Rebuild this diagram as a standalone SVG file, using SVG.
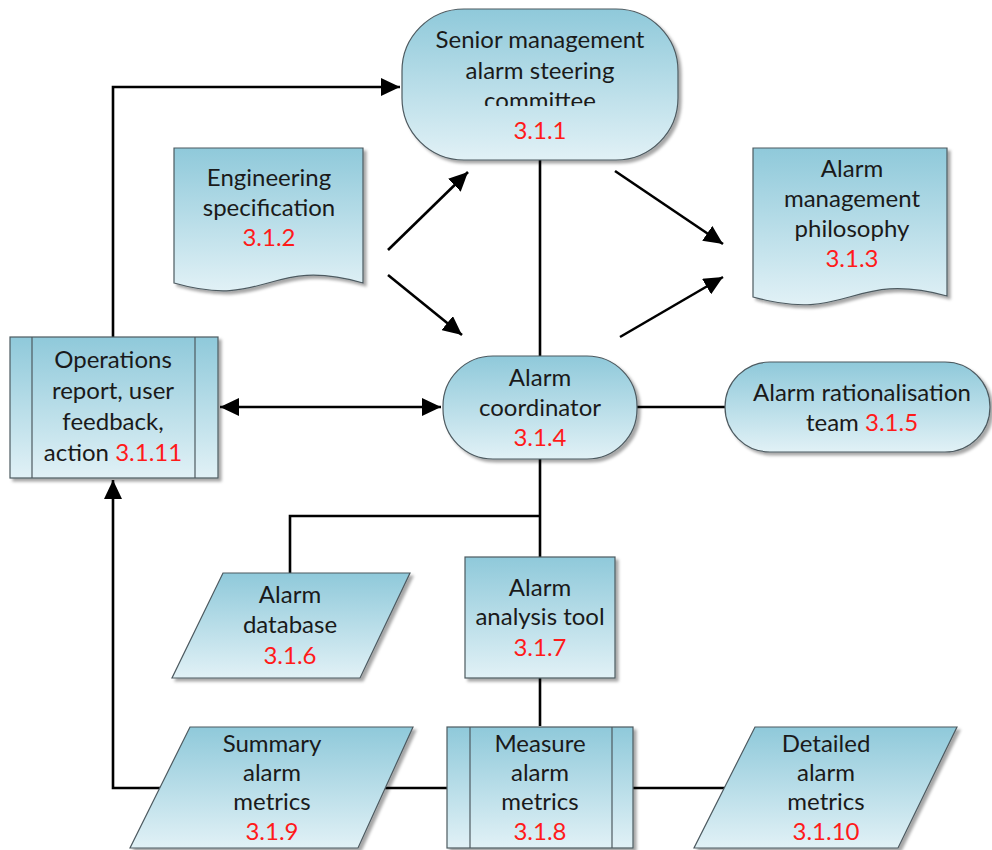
<svg xmlns="http://www.w3.org/2000/svg" width="992" height="850" viewBox="0 0 992 850">
<defs>
<linearGradient id="g" x1="0" y1="0" x2="0" y2="1">
<stop offset="0" stop-color="#8fc9da"/>
<stop offset="1" stop-color="#e1f1f6"/>
</linearGradient>
<filter id="sh" x="-10%" y="-10%" width="130%" height="130%">
<feDropShadow dx="3" dy="3" stdDeviation="1.5" flood-color="#000" flood-opacity="0.35"/>
</filter>
<marker id="ah" markerUnits="userSpaceOnUse" markerWidth="20" markerHeight="18" viewBox="0 0 20 18" refX="19" refY="9" orient="auto-start-reverse">
<path d="M0,0 L19,9 L0,18 Z" fill="#000"/>
</marker>
<clipPath id="clipC"><rect x="400" y="80" width="280" height="26"/></clipPath>
<style>
.n{fill:url(#g);stroke:#4d5a60;stroke-width:1.2;filter:url(#sh)}
.il{stroke:#4d5a60;stroke-width:1.2;fill:none}
.c{stroke:#000;stroke-width:2.6;fill:none}
text{font-family:Lato,"Liberation Sans",sans-serif;font-size:24px;fill:#1a1a1a;text-anchor:middle}
.r{fill:#ff1a1a}
</style>
</defs>
<g id="connectors">
<path class="c" d="M113,337 V87 H400" marker-end="url(#ah)"/>
<path class="c" d="M160,788 H113 V480" marker-end="url(#ah)"/>
<path class="c" d="M540,160 V356"/>
<path class="c" d="M637,407 H725"/>
<path class="c" d="M220,407 H441" marker-start="url(#ah)" marker-end="url(#ah)"/>
<path class="c" d="M388,250 L468,172" marker-end="url(#ah)"/>
<path class="c" d="M388,275 L462,335" marker-end="url(#ah)"/>
<path class="c" d="M615,171 L723,244" marker-end="url(#ah)"/>
<path class="c" d="M620,337 L723,277" marker-end="url(#ah)"/>
<path class="c" d="M540,459 V557"/>
<path class="c" d="M540,516 H290 V573"/>
<path class="c" d="M540,678 V726"/>
<path class="c" d="M385,788 H447"/>
<path class="c" d="M633,788 H726"/>
</g>
<g id="n311">
<rect class="n" x="402" y="9" width="276" height="151" rx="62" ry="62"/>
<text x="540" y="48">Senior management</text>
<text x="540" y="79">alarm steering</text>
<text x="540" y="109" clip-path="url(#clipC)">committee</text>
<text x="540" y="139" class="r">3.1.1</text>
</g>
<g id="n312">
<path class="n" d="M174,148 H363 V283 C268,256 268,310 174,283 Z"/>
<text x="269" y="186">Engineering</text>
<text x="269" y="216">specification</text>
<text x="269" y="246" class="r">3.1.2</text>
</g>
<g id="n313">
<path class="n" d="M753,148 H947 V296 C850,270 850,324 753,297 Z"/>
<text x="852" y="177">Alarm</text>
<text x="852" y="207">management</text>
<text x="852" y="237">philosophy</text>
<text x="852" y="267" class="r">3.1.3</text>
</g>
<g id="n3111">
<rect class="n" x="10" y="337" width="208" height="141"/>
<line class="il" x1="32" y1="337" x2="32" y2="478"/>
<line class="il" x1="195" y1="337" x2="195" y2="478"/>
<text x="113" y="368">Operations</text>
<text x="113" y="399">report, user</text>
<text x="113" y="430">feedback,</text>
<text x="113" y="461">action <tspan class="r">3.1.11</tspan></text>
</g>
<g id="n314">
<rect class="n" x="443" y="356" width="194" height="103" rx="50" ry="50"/>
<text x="540" y="386">Alarm</text>
<text x="540" y="416">coordinator</text>
<text x="540" y="446" class="r">3.1.4</text>
</g>
<g id="n315">
<rect class="n" x="725" y="362" width="265" height="90" rx="45" ry="45"/>
<text x="862" y="401">Alarm rationalisation</text>
<text x="862" y="431">team <tspan class="r">3.1.5</tspan></text>
</g>
<g id="n316">
<path class="n" d="M223,573 H410 L360,678 H172 Z"/>
<text x="290" y="603">Alarm</text>
<text x="290" y="633">database</text>
<text x="290" y="664" class="r">3.1.6</text>
</g>
<g id="n317">
<rect class="n" x="465" y="557" width="150" height="121"/>
<text x="540" y="596">Alarm</text>
<text x="540" y="625">analysis tool</text>
<text x="540" y="656" class="r">3.1.7</text>
</g>
<g id="n319">
<path class="n" d="M190,727 H413 L358,848 H130 Z"/>
<text x="272" y="752">Summary</text>
<text x="272" y="781">alarm</text>
<text x="272" y="810">metrics</text>
<text x="272" y="840" class="r">3.1.9</text>
</g>
<g id="n318">
<rect class="n" x="447" y="727" width="186" height="121"/>
<line class="il" x1="470" y1="727" x2="470" y2="848"/>
<line class="il" x1="612" y1="727" x2="612" y2="848"/>
<text x="540" y="752">Measure</text>
<text x="540" y="781">alarm</text>
<text x="540" y="810">metrics</text>
<text x="540" y="840" class="r">3.1.8</text>
</g>
<g id="n3110">
<path class="n" d="M755,727 H957 L898,848 H694 Z"/>
<text x="826" y="752">Detailed</text>
<text x="826" y="781">alarm</text>
<text x="826" y="810">metrics</text>
<text x="826" y="840" class="r">3.1.10</text>
</g>
</svg>
